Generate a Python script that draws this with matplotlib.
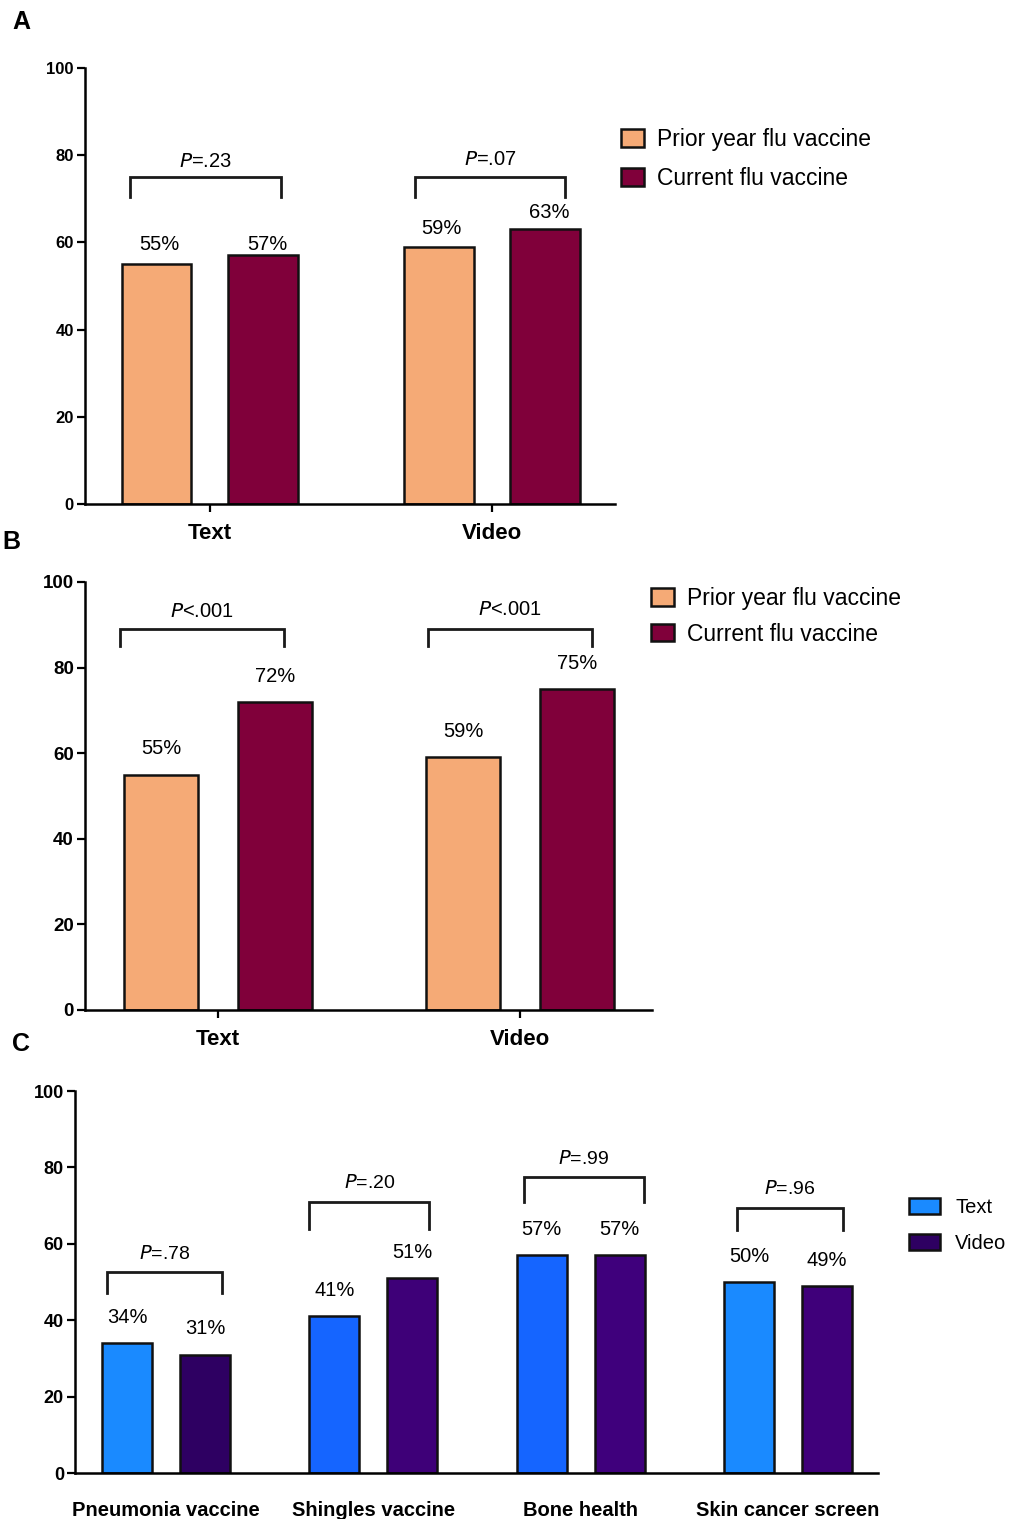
import numpy as np
import matplotlib
matplotlib.use('Agg')
import matplotlib.pyplot as plt

plt.rcParams['font.family'] = ['Liberation Sans', 'DejaVu Sans']

# data
groups_ab = ['Text', 'Video']
prior_a = [55, 59]
current_a = [57, 63]
p_a = ['=.23', '=.07']
prior_b = [55, 59]
current_b = [72, 75]
p_b = ['<.001', '<.001']

categories_c = ['Pneumonia vaccine', 'Shingles vaccine', 'Bone health', 'Skin cancer screen']
text_c = [34, 41, 57, 50]
video_c = [31, 51, 57, 49]
p_c = ['=.78', '=.20', '=.99', '=.96']

# bracket heights (top, leg bottom)
bracket_a = [(75, 70.5), (75, 70.5)]
bracket_b = [(89, 85), (89, 85)]
bracket_c = [(52.5, 47), (71, 64), (77.5, 71), (69.5, 63.5)]
# label lifts above bar tops in panel A (labels are not evenly placed)
lift_a_prior = [4.6, 4.2]
lift_a_current = [2.6, 3.8]

PEACH = '#F5AA76'
MAROON = '#80003A'
text_cols = ['#1A8AFF', '#1565FF', '#1565FF', '#1A8AFF']
video_cols = ['#2E0062', '#3E0078', '#3F007C', '#3F007A']

W, H = 1011, 1519
fig = plt.figure(figsize=(W / 100, H / 100), dpi=100)


def px_axes(l, t, r, b):
    return fig.add_axes([l / W, 1 - b / H, (r - l) / W, (b - t) / H])


def style(ax, xlim, ysize):
    ax.set_ylim(0, 100)
    ax.set_xlim(*xlim)
    ax.set_yticks([0, 20, 40, 60, 80, 100])
    for s in ['top', 'right']:
        ax.spines[s].set_visible(False)
    for s in ['left', 'bottom']:
        ax.spines[s].set_linewidth(1.8)
    ax.tick_params(axis='y', length=6, width=1.6, labelsize=ysize, pad=2)
    for lab in ax.get_yticklabels():
        lab.set_fontweight('bold')


def bracket(ax, x0, x1, top, bot, ptxt, ty, fs):
    ax.plot([x0, x0, x1, x1], [bot, top, top, bot], color='#1a1a1a', lw=2, solid_joinstyle='miter')
    ax.text((x0 + x1) / 2, ty, r'$\it{P}$' + ptxt, ha='center', va='center', fontsize=fs)


w = 0.245
off = 0.188
x = np.arange(2)

# ---- panel A
axA = px_axes(85, 68, 615, 504)
style(axA, (-0.443, 1.436), 12)
axA.bar(x - off, prior_a, w, color=PEACH, edgecolor='#111111', lw=1.8, label='Prior year flu vaccine')
axA.bar(x + off, current_a, w, color=MAROON, edgecolor='#111111', lw=1.8, label='Current flu vaccine')
for i in range(2):
    axA.text(x[i] - off + 0.01, prior_a[i] + lift_a_prior[i], f'{prior_a[i]}%', ha='center', va='center', fontsize=14.5)
    axA.text(x[i] + off + 0.015, current_a[i] + lift_a_current[i], f'{current_a[i]}%', ha='center', va='center', fontsize=14.5)
bracket(axA, -0.284, 0.253, bracket_a[0][0], bracket_a[0][1], p_a[0], 78.5, 14.5)
bracket(axA, 0.727, 1.259, bracket_a[1][0], bracket_a[1][1], p_a[1], 79, 14.5)
axA.set_xticks(x)
axA.set_xticklabels(groups_ab, fontsize=16, fontweight='bold')
axA.tick_params(axis='x', length=6, width=1.6, pad=8)
axA.legend(loc='upper left', bbox_to_anchor=(621 / W, 1 - 128 / H), bbox_transform=fig.transFigure,
           frameon=False, fontsize=16.5, handlelength=1.0, handleheight=0.8, handletextpad=0.55,
           labelspacing=0.7, borderpad=0, borderaxespad=0)
fig.text(12 / W, 1 - 22 / H, 'A', fontsize=18, fontweight='bold', va='center')

# ---- panel B
axB = px_axes(85, 582, 652, 1010)
style(axB, (-0.44, 1.437), 13.5)
axB.bar(x - off, prior_b, w, color=PEACH, edgecolor='#111111', lw=1.8, label='Prior year flu vaccine')
axB.bar(x + off, current_b, w, color=MAROON, edgecolor='#111111', lw=1.8, label='Current flu vaccine')
for i in range(2):
    axB.text(x[i] - off, prior_b[i] + 6, f'{prior_b[i]}%', ha='center', va='center', fontsize=14.5)
    axB.text(x[i] + off, current_b[i] + 6, f'{current_b[i]}%', ha='center', va='center', fontsize=14.5)
bracket(axB, -0.325, 0.219, bracket_b[0][0], bracket_b[0][1], p_b[0], 93, 14.5)
bracket(axB, 0.695, 1.238, bracket_b[1][0], bracket_b[1][1], p_b[1], 93.5, 14.5)
axB.set_xticks(x)
axB.set_xticklabels(groups_ab, fontsize=16, fontweight='bold')
axB.tick_params(axis='x', length=6, width=1.6, pad=8)
axB.legend(loc='upper left', bbox_to_anchor=(651 / W, 1 - 587 / H), bbox_transform=fig.transFigure,
           frameon=False, fontsize=16.5, handlelength=1.0, handleheight=0.8, handletextpad=0.55,
           labelspacing=0.55, borderpad=0, borderaxespad=0)
fig.text(2 / W, 1 - 542 / H, 'B', fontsize=18, fontweight='bold', va='center')

# ---- panel C
xc = np.arange(4)
axC = px_axes(75, 1091, 878, 1473)
style(axC, (-0.439, 3.434), 13)
wc = 0.242
axC.bar(xc - off, text_c, wc, color=text_cols, edgecolor='#111111', lw=1.8, label='Text')
axC.bar(xc + off, video_c, wc, color=video_cols, edgecolor='#111111', lw=1.8, label='Video')
for i in range(4):
    axC.text(xc[i] - off, text_c[i] + 6.7, f'{text_c[i]}%', ha='center', va='center', fontsize=14.5)
    axC.text(xc[i] + off, video_c[i] + 6.7, f'{video_c[i]}%', ha='center', va='center', fontsize=14.5)
# bracket ends (relative to group centre) differ per group
br_left = [-0.285, -0.309, -0.275, -0.245]
br_right = [0.270, 0.270, 0.304, 0.265]
for i in range(4):
    bracket(axC, xc[i] + br_left[i], xc[i] + br_right[i], bracket_c[i][0], bracket_c[i][1], p_c[i],
            bracket_c[i][0] + 4.8, 14)
axC.set_xticks(xc)
axC.set_xticklabels(categories_c, fontsize=14.5, fontweight='bold')
axC.tick_params(axis='x', length=0, pad=20)
axC.legend(loc='upper left', bbox_to_anchor=(909 / W, 1 - 1198 / H), bbox_transform=fig.transFigure,
           frameon=False, fontsize=14.5, handlelength=1.55, handleheight=0.85, handletextpad=0.75,
           labelspacing=0.85, borderpad=0, borderaxespad=0)
fig.text(12 / W, 1 - 1044 / H, 'C', fontsize=18, fontweight='bold', va='center')

fig.savefig('out.png', dpi=100)
